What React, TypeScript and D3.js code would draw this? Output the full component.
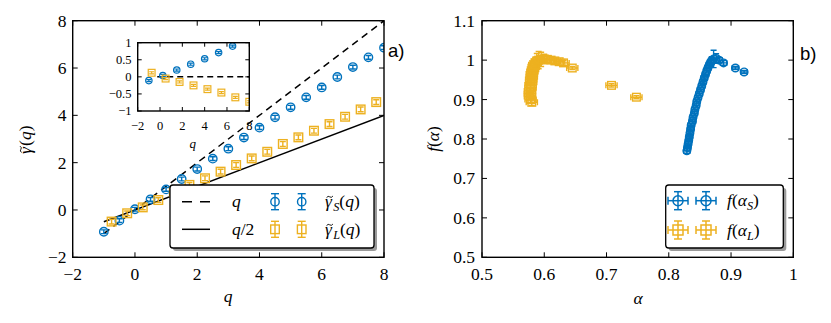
import React from "react";
import * as d3 from "d3";

const BLUE = "#0072bd";
const ORANGE = "#edb120";
const SERIF = "'Liberation Serif', 'DejaVu Serif', serif";
const SANS = "'Liberation Sans', Arial, sans-serif";

// panel a), main plot
const qS = [-1, -0.5, 0, 0.5, 1, 1.5, 2, 2.5, 3, 3.5, 4, 4.5, 5, 5.5, 6, 6.5, 7, 7.5, 8];
const gammaS = [-0.92, -0.45, 0.03, 0.45, 0.87, 1.31, 1.73, 2.17, 2.59, 3.06, 3.48, 3.92, 4.34, 4.76, 5.18, 5.62, 6.04, 6.45, 6.86];
const qL = [-0.75, -0.25, 0.25, 0.75, 1.25, 1.75, 2.25, 2.75, 3.25, 3.75, 4.25, 4.75, 5.25, 5.75, 6.25, 6.75, 7.25, 7.75];
const gammaL = [-0.49, -0.14, 0.11, 0.42, 0.75, 1.06, 1.34, 1.62, 1.9, 2.18, 2.46, 2.79, 3.07, 3.35, 3.63, 3.94, 4.25, 4.56];
const errS = 0.08;
const errL = 0.1;
const refLineQ = [-1, 8];

// panel a), inset
const insetQS = [-1, 0.25, 1.5, 2.75, 4, 5.25, 6.5];
const insetS = [-0.11, 0.04, 0.2, 0.37, 0.53, 0.71, 0.9];
const insetQL = [-0.75, 0.5, 1.75, 3, 4.25, 5.5, 6.75, 8];
const insetL = [0.12, -0.05, -0.15, -0.25, -0.36, -0.46, -0.6, -0.73];
const insetErr = 0.03;
const zeroLineQ = [-0.25, 8];

// panel b)
const alphaS = [0.829, 0.83, 0.831, 0.832, 0.833, 0.834, 0.835, 0.836, 0.838, 0.839, 0.841, 0.842, 0.844, 0.845, 0.847, 0.849, 0.851, 0.853, 0.855, 0.857, 0.859, 0.861, 0.863, 0.865, 0.867, 0.869, 0.872, 0.876, 0.881, 0.888, 0.907, 0.921];
const fS = [0.77, 0.778, 0.787, 0.796, 0.805, 0.815, 0.825, 0.835, 0.845, 0.855, 0.865, 0.875, 0.885, 0.895, 0.905, 0.915, 0.925, 0.935, 0.945, 0.955, 0.964, 0.973, 0.981, 0.988, 0.994, 0.999, 1.003, 1.004, 1.0, 0.993, 0.98, 0.97];
const fErrS = [0.006, 0.006, 0.006, 0.006, 0.006, 0.006, 0.006, 0.006, 0.006, 0.006, 0.006, 0.006, 0.006, 0.006, 0.006, 0.006, 0.006, 0.006, 0.006, 0.006, 0.006, 0.006, 0.006, 0.006, 0.008, 0.01, 0.022, 0.012, 0.006, 0.006, 0.004, 0.004];
const alphaL = [0.58, 0.578, 0.577, 0.577, 0.577, 0.578, 0.578, 0.579, 0.579, 0.58, 0.58, 0.581, 0.582, 0.583, 0.584, 0.586, 0.588, 0.591, 0.595, 0.6, 0.605, 0.611, 0.617, 0.624, 0.631, 0.645, 0.708, 0.748];
const fL = [0.893, 0.9, 0.908, 0.915, 0.922, 0.93, 0.937, 0.944, 0.951, 0.958, 0.965, 0.971, 0.977, 0.983, 0.988, 0.993, 0.997, 1.0, 1.002, 1.003, 1.002, 1.0, 0.998, 0.996, 0.993, 0.98, 0.936, 0.906];
const fErrL = [0.008, 0.007, 0.007, 0.007, 0.007, 0.007, 0.007, 0.007, 0.007, 0.007, 0.007, 0.007, 0.007, 0.008, 0.01, 0.015, 0.02, 0.022, 0.018, 0.012, 0.008, 0.007, 0.006, 0.006, 0.006, 0.004, 0.004, 0.004];
const aErrS = 0.005;
const aErrL = 0.009;

const mainTicks = [-2, 0, 2, 4, 6, 8];
const mainTickLabels = ["\u22122", "0", "2", "4", "6", "8"];
const insetXTicks = [-2, 0, 2, 4, 6, 8];
const insetXTickLabels = ["\u22122", "0", "2", "4", "6", "8"];
const insetYTicks = [-1, -0.5, 0, 0.5, 1];
const insetYTickLabels = ["\u22121", "\u22120.5", "0", "0.5", "1"];
const alphaTicks = [0.5, 0.6, 0.7, 0.8, 0.9, 1];
const alphaTickLabels = ["0.5", "0.6", "0.7", "0.8", "0.9", "1"];
const fTicks = [0.5, 0.6, 0.7, 0.8, 0.9, 1, 1.1];
const fTickLabels = ["0.5", "0.6", "0.7", "0.8", "0.9", "1", "1.1"];

type Scale = d3.ScaleLinear<number, number>;

function Marker({ cx, cy, shape, r, color, sw }: any) {
  return shape === "o" ? (
    <circle cx={cx} cy={cy} r={r} fill="none" stroke={color} strokeWidth={sw} />
  ) : (
    <rect x={cx - r} y={cy - r} width={2 * r} height={2 * r} fill="none" stroke={color} strokeWidth={sw} />
  );
}

function ErrPoint({ cx, cy, yLo, yHi, xLo, xHi, cap, shape, r, color, sw }: any) {
  return (
    <g>
      <line x1={cx} x2={cx} y1={yLo} y2={yHi} stroke={color} strokeWidth={sw} />
      <line x1={cx - cap} x2={cx + cap} y1={yLo} y2={yLo} stroke={color} strokeWidth={sw} />
      <line x1={cx - cap} x2={cx + cap} y1={yHi} y2={yHi} stroke={color} strokeWidth={sw} />
      {xLo !== undefined && (
        <g>
          <line x1={xLo} x2={xHi} y1={cy} y2={cy} stroke={color} strokeWidth={sw} />
          <line x1={xLo} x2={xLo} y1={cy - cap} y2={cy + cap} stroke={color} strokeWidth={sw} />
          <line x1={xHi} x2={xHi} y1={cy - cap} y2={cy + cap} stroke={color} strokeWidth={sw} />
        </g>
      )}
      <Marker cx={cx} cy={cy} shape={shape} r={r} color={color} sw={sw} />
    </g>
  );
}

function Frame({ x, y, xTicks, yTicks, xLabels, yLabels, fs, tl, xLabY, yLabX, yOff }: any) {
  const [x0, x1] = x.range();
  const [yb, yt] = y.range();
  return (
    <g fontFamily={SERIF} fontSize={fs}>
      {xTicks.map((t: number, i: number) => (
        <g key={"x" + i}>
          <line x1={x(t)} x2={x(t)} y1={yb} y2={yb - tl} stroke="black" />
          <line x1={x(t)} x2={x(t)} y1={yt} y2={yt + tl} stroke="black" />
          <text x={x(t)} y={xLabY} textAnchor="middle">{xLabels[i]}</text>
        </g>
      ))}
      {yTicks.map((t: number, i: number) => (
        <g key={"y" + i}>
          <line x1={x0} x2={x0 + tl} y1={y(t)} y2={y(t)} stroke="black" />
          <line x1={x1} x2={x1 - tl} y1={y(t)} y2={y(t)} stroke="black" />
          <text x={yLabX} y={y(t) + yOff} textAnchor="end">{yLabels[i]}</text>
        </g>
      ))}
      <rect x={x0} y={yt} width={x1 - x0} height={yb - yt} fill="none" stroke="black" strokeWidth={1.4} />
    </g>
  );
}

// gamma with a tilde drawn above it, then optional subscript and "(q)"
function GammaTilde({ x, y, fs, sub, anchorMiddle }: any) {
  const gw = fs * 0.44;
  const subW = sub ? fs * 0.45 : 0;
  const total = gw + subW + fs * 1.17;
  const x0 = anchorMiddle ? x - total / 2 : x;
  const tx = x0 + fs * 0.27;
  const ty = y - fs * 0.58;
  return (
    <g fontFamily={SERIF} fontSize={fs}>
      <text x={x0} y={y} fontStyle="italic">{"\u03b3"}</text>
      <path d={`M${tx - 3.2},${ty + 0.8} q1.6,-2.2 3.2,-0.8 t3.2,-0.8`} fill="none" stroke="black" strokeWidth={0.9} />
      <text x={x0 + gw + 0.5} y={y}>
        {sub && <tspan fontStyle="italic" fontSize={fs * 0.7} dy={4}>{sub}</tspan>}
        <tspan dy={sub ? -4 : 0}>(</tspan>
        <tspan fontStyle="italic">q</tspan>
        <tspan>)</tspan>
      </text>
    </g>
  );
}

export default function App() {
  const W = 831;
  const H = 323;

  const xA = d3.scaleLinear().domain([-2, 8]).range([72.7, 384]);
  const yA = d3.scaleLinear().domain([-2, 8]).range([257.3, 20.7]);
  const xI = d3.scaleLinear().domain([-2, 8]).range([137.7, 249.3]);
  const yI = d3.scaleLinear().domain([-1, 1]).range([111, 42.7]);
  const xB = d3.scaleLinear().domain([0.5, 1]).range([482, 793.3]);
  const yB = d3.scaleLinear().domain([0.5, 1.1]).range([257.3, 20.7]);

  const line = (xs: Scale, ys: Scale, f: (q: number) => number, dom: number[]) =>
    d3.line<number>().x((q) => xs(q)).y((q) => ys(f(q)))(dom) || "";

  return (
    <svg width={W} height={H} style={{ position: "absolute", left: 0, top: 0, background: "white" }}>
      <defs>
        <clipPath id="clipA"><rect x={72.7} y={20.7} width={311.3} height={236.6} /></clipPath>
        <clipPath id="clipI"><rect x={137.7} y={42.7} width={111.6} height={68.3} /></clipPath>
        <clipPath id="clipB"><rect x={482} y={20.7} width={311.3} height={236.6} /></clipPath>
      </defs>

      {/* ---------- panel a ---------- */}
      <g clipPath="url(#clipA)">
        <path d={line(xA, yA, (q) => q, refLineQ)} stroke="black" strokeWidth={1.5} fill="none" strokeDasharray="7,5" />
        <path d={line(xA, yA, (q) => q / 2, refLineQ)} stroke="black" strokeWidth={1.5} fill="none" />
        {qS.map((q, i) => (
          <ErrPoint key={"s" + i} cx={xA(q)} cy={yA(gammaS[i])} yLo={yA(gammaS[i] - errS)} yHi={yA(gammaS[i] + errS)}
            cap={3} shape="o" r={4.2} color={BLUE} sw={1.4} />
        ))}
        {qL.map((q, i) => (
          <ErrPoint key={"l" + i} cx={xA(q)} cy={yA(gammaL[i])} yLo={yA(gammaL[i] - errL)} yHi={yA(gammaL[i] + errL)}
            cap={3} shape="s" r={4.3} color={ORANGE} sw={1.4} />
        ))}
      </g>
      <Frame x={xA} y={yA} xTicks={mainTicks} yTicks={mainTicks} xLabels={mainTickLabels} yLabels={mainTickLabels}
        fs={17.5} tl={5} xLabY={280} yLabX={66.5} yOff={6} />

      {/* inset */}
      <rect x={137.7} y={42.7} width={111.6} height={68.3} fill="white" />
      <g clipPath="url(#clipI)">
        <path d={line(xI, yI, () => 0, zeroLineQ)} stroke="black" strokeWidth={1.5} fill="none" strokeDasharray="6,4" />
        {insetQS.map((q, i) => (
          <ErrPoint key={"is" + i} cx={xI(q)} cy={yI(insetS[i])} yLo={yI(insetS[i] - insetErr)} yHi={yI(insetS[i] + insetErr)}
            cap={2.5} shape="o" r={3.2} color={BLUE} sw={1.2} />
        ))}
        {insetQL.map((q, i) => (
          <ErrPoint key={"il" + i} cx={xI(q)} cy={yI(insetL[i])} yLo={yI(insetL[i] - insetErr)} yHi={yI(insetL[i] + insetErr)}
            cap={2.5} shape="s" r={3.4} color={ORANGE} sw={1.2} />
        ))}
      </g>
      <Frame x={xI} y={yI} xTicks={insetXTicks} yTicks={insetYTicks} xLabels={insetXTickLabels} yLabels={insetYTickLabels}
        fs={12.5} tl={4} xLabY={130} yLabX={131.5} yOff={4.3} />
      <text x={192.7} y={148} fontStyle="italic" textAnchor="middle" fontFamily={SERIF} fontSize={13}>q</text>

      {/* legend a */}
      <rect x={173} y={188} width={204} height={63} rx={3} fill="#9a9a9a" />
      <rect x={170} y={185} width={204} height={63} rx={3} fill="white" stroke="black" strokeWidth={1.3} />
      <line x1={182} x2={210} y1={201.7} y2={201.7} stroke="black" strokeWidth={1.5} strokeDasharray="10,8" />
      <line x1={182} x2={210} y1={229.3} y2={229.3} stroke="black" strokeWidth={1.5} />
      <g fontFamily={SERIF} fontSize={17.5}>
        <text x={232} y={207} fontStyle="italic">q</text>
        <text x={232} y={235}><tspan fontStyle="italic">q</tspan>/2</text>
      </g>
      <GammaTilde x={325} y={207} fs={17.5} sub="S" />
      <GammaTilde x={325} y={235} fs={17.5} sub="L" />
      {[275, 301.7].map((cx, i) => (
        <g key={"la" + i}>
          <ErrPoint cx={cx} cy={201.7} yLo={193.7} yHi={209.7} cap={4} shape="o" r={4.2} color={BLUE} sw={1.4} />
          <ErrPoint cx={cx} cy={229.3} yLo={221.3} yHi={237.3} cap={4} shape="s" r={4.3} color={ORANGE} sw={1.4} />
        </g>
      ))}

      <g transform="translate(31,140) rotate(-90)">
        <GammaTilde x={0} y={0} fs={17.5} anchorMiddle />
      </g>
      <text x={228} y={302} fontStyle="italic" textAnchor="middle" fontFamily={SERIF} fontSize={17.5}>q</text>
      <text x={388} y={57} fontFamily={SANS} fontSize={18.5}>a)</text>

      {/* ---------- panel b ---------- */}
      <g clipPath="url(#clipB)">
        {alphaL.map((a, i) => (
          <ErrPoint key={"bl" + i} cx={xB(a)} cy={yB(fL[i])} yLo={yB(fL[i] - fErrL[i])} yHi={yB(fL[i] + fErrL[i])}
            xLo={xB(a - aErrL)} xHi={xB(a + aErrL)} cap={3} shape="s" r={3.8} color={ORANGE} sw={1.4} />
        ))}
        {alphaS.map((a, i) => (
          <ErrPoint key={"bs" + i} cx={xB(a)} cy={yB(fS[i])} yLo={yB(fS[i] - fErrS[i])} yHi={yB(fS[i] + fErrS[i])}
            xLo={xB(a - aErrS)} xHi={xB(a + aErrS)} cap={3} shape="o" r={3.8} color={BLUE} sw={1.4} />
        ))}
      </g>
      <Frame x={xB} y={yB} xTicks={alphaTicks} yTicks={fTicks} xLabels={alphaTickLabels} yLabels={fTickLabels}
        fs={17.5} tl={5} xLabY={280} yLabX={475} yOff={6} />

      {/* legend b */}
      <rect x={668.7} y={188} width={117.6} height={63} rx={3} fill="#9a9a9a" />
      <rect x={665.7} y={185} width={117.6} height={63} rx={3} fill="white" stroke="black" strokeWidth={1.3} />
      {[678, 706].map((cx, i) => (
        <g key={"lb" + i}>
          <ErrPoint cx={cx} cy={200.7} yLo={191.7} yHi={209.7} xLo={cx - 10} xHi={cx + 10} cap={4} shape="o" r={5} color={BLUE} sw={1.5} />
          <ErrPoint cx={cx} cy={230} yLo={221} yHi={239} xLo={cx - 10} xHi={cx + 10} cap={4} shape="s" r={5} color={ORANGE} sw={1.5} />
        </g>
      ))}
      <g fontFamily={SERIF} fontSize={17.5}>
        <text x={727} y={206}>
          <tspan fontStyle="italic">f</tspan>(<tspan fontStyle="italic">{"\u03b1"}</tspan>
          <tspan fontStyle="italic" fontSize="0.7em" dy="4">S</tspan><tspan dy="-4">)</tspan>
        </text>
        <text x={727} y={235.5}>
          <tspan fontStyle="italic">f</tspan>(<tspan fontStyle="italic">{"\u03b1"}</tspan>
          <tspan fontStyle="italic" fontSize="0.7em" dy="4">L</tspan><tspan dy="-4">)</tspan>
        </text>
        <text transform="translate(439,139) rotate(-90)" textAnchor="middle">
          <tspan fontStyle="italic">f</tspan>(<tspan fontStyle="italic">{"\u03b1"}</tspan>)
        </text>
        <text x={638} y={304} fontStyle="italic" textAnchor="middle">{"\u03b1"}</text>
      </g>
      <text x={800} y={60} fontFamily={SANS} fontSize={18.5}>b)</text>
    </svg>
  );
}
